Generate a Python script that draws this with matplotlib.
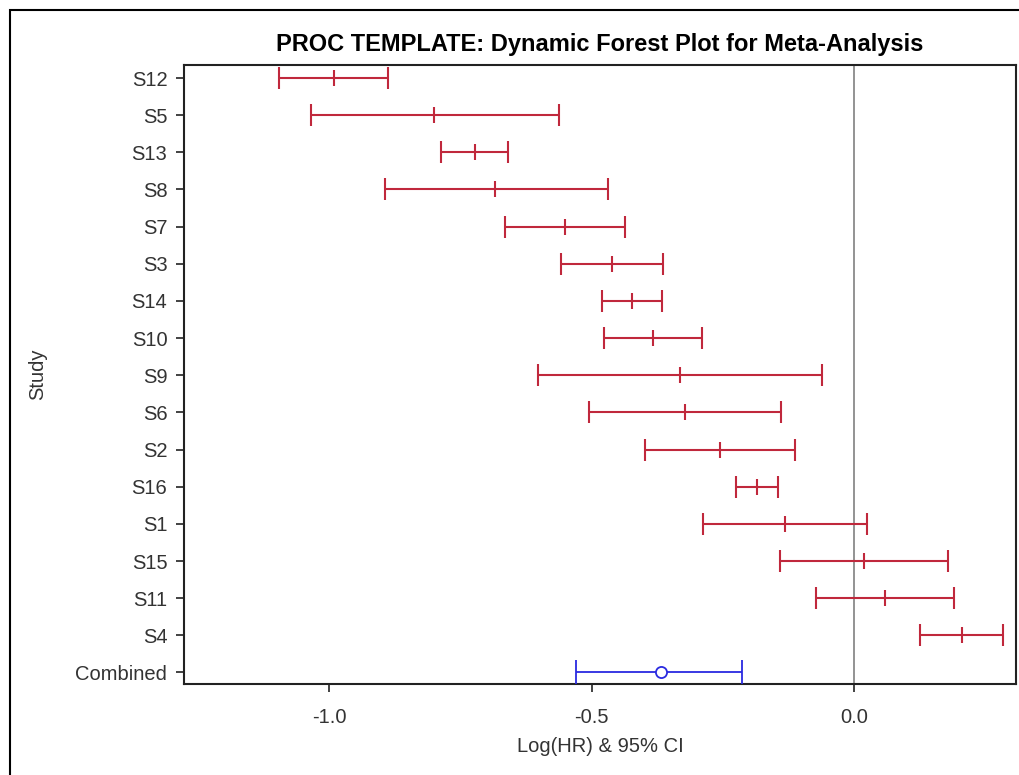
import matplotlib.pyplot as plt
from matplotlib.patches import Rectangle

plt.rcParams['font.family'] = ['Liberation Sans', 'DejaVu Sans']

studies = ["S12", "S5", "S13", "S8", "S7", "S3", "S14", "S10", "S9",
           "S6", "S2", "S16", "S1", "S15", "S11", "S4"]
log_hr = [-0.992, -0.800, -0.723, -0.684, -0.551, -0.461, -0.423, -0.383, -0.332,
          -0.322, -0.255, -0.185, -0.132, 0.019, 0.059, 0.206]
lower = [-1.096, -1.035, -0.787, -0.894, -0.665, -0.558, -0.480, -0.476, -0.602,
         -0.505, -0.398, -0.225, -0.288, -0.141, -0.072, 0.126]
upper = [-0.888, -0.562, -0.659, -0.469, -0.436, -0.364, -0.366, -0.290, -0.061,
         -0.139, -0.112, -0.145, 0.025, 0.179, 0.191, 0.285]

combined_label = "Combined"
combined_hr = -0.368
combined_lower = -0.529
combined_upper = -0.213

red = "#c0283c"
blue = "#2a2ae0"
txt = "#333333"

W, H = 1020, 775
fig = plt.figure(figsize=(W / 100, H / 100), dpi=100)
ax = fig.add_axes([184 / W, 1 - 684 / H, (1016 - 184) / W, (684 - 65) / H])

# outer border of the graph (cut off on right and bottom)
fig.patches.append(Rectangle((10 / W, -0.05), 1.2, (765 / H) + 0.05,
                             transform=fig.transFigure, fill=False,
                             edgecolor="black", linewidth=1.5))

ax.axvline(0, color="#808080", linewidth=1.2, zorder=1)

ypos = list(range(len(studies)))
xerr = [[h - l for h, l in zip(log_hr, lower)], [u - h for h, u in zip(log_hr, upper)]]
ax.errorbar(log_hr, ypos, xerr=xerr, fmt="|", color=red, ecolor=red,
            elinewidth=1.5, capsize=8, capthick=1.5, markersize=11,
            markeredgewidth=1.5, zorder=3)

cy = len(studies)
ax.errorbar([combined_hr], [cy],
            xerr=[[combined_hr - combined_lower], [combined_upper - combined_hr]],
            fmt="o", color=blue, ecolor=blue, mfc="white", mec=blue,
            elinewidth=1.3, capsize=8.5, capthick=1.3, markersize=8,
            markeredgewidth=1.3, zorder=3)

ax.set_yticks(ypos + [cy])
ax.set_yticklabels(studies + [combined_label])
ax.set_ylim(cy + 0.31, -0.35)
ax.set_xlim(-1.277, 0.309)
ax.set_xticks([-1.0, -0.5, 0.0])
ax.set_xticklabels(["-1.0", "-0.5", "0.0"])

ax.tick_params(axis="both", direction="out", length=6, width=1.2,
               labelsize=14.5, labelcolor=txt, color="#222222")
ax.tick_params(axis="x", pad=11)
ax.tick_params(axis="y", pad=6)
for s in ax.spines.values():
    s.set_linewidth(1.5)
    s.set_color("#222222")

fig.text(600 / W, 1 - 746 / H, "Log(HR) & 95% CI", fontsize=14.5, color=txt,
         ha="center", va="center")
fig.text(38 / W, 1 - 374 / H, "Study", fontsize=14.5, color=txt, rotation=90,
         ha="center", va="center")
fig.text(600 / W, 1 - 44 / H, "PROC TEMPLATE: Dynamic Forest Plot for Meta-Analysis",
         fontsize=17, fontweight="bold", ha="center", va="center")

fig.savefig("out.png", dpi=100)
